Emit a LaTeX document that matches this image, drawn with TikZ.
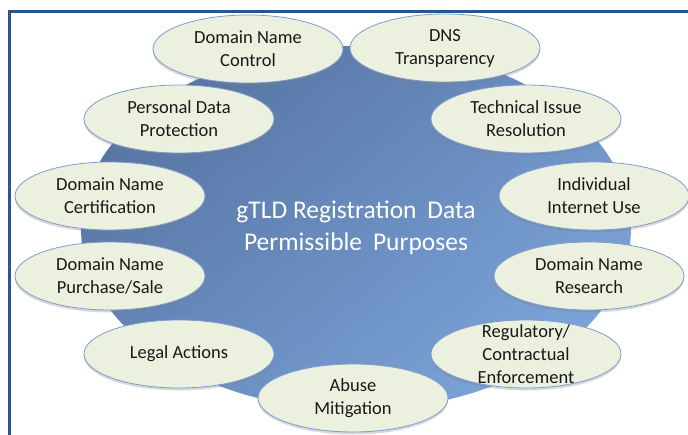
\documentclass[tikz,border=0pt]{standalone}
\usepackage{fontspec}
\setmainfont{Carlito}
\usetikzlibrary{shapes.geometric,shadows}

\definecolor{frameblue}{RGB}{43,85,145}
\definecolor{hubdark}{RGB}{86,117,164}
\definecolor{hublight}{RGB}{124,163,216}
\definecolor{purposefill}{RGB}{235,241,222}
\definecolor{purposeedge}{RGB}{125,157,204}

\begin{document}
\begin{tikzpicture}[x=1pt, y=-1pt,
		borderline/.style={draw=frameblue, line width=2.6pt},
		hub/.style={ellipse, minimum width=550pt, minimum height=364pt, inner sep=0pt, left color=hubdark, right color=hublight, shading angle=40, text=white, align=center, font=\fontsize{25.5}{32}\selectfont},
		purpose/.style={ellipse, draw=purposeedge, line width=0.8pt, fill=purposefill, minimum width=190pt, minimum height=68pt, inner sep=0pt, align=center, text=black!90, font=\fontsize{18.5}{23}\selectfont, drop shadow={shadow xshift=0pt, shadow yshift=-2.5pt, opacity=0.3}},
		purposelabel/.style={align=center, text=black!90, font=\fontsize{18.5}{23}\selectfont},
	]
		\useasboundingbox (0,0) rectangle (688,434);
		\clip (0,0) rectangle (688,434);

		\draw[borderline] (9.5,440) -- (9.5,11.3) -- (700,11.3);

		\node[hub] (hub) at (356,228) {gTLD Registration\hspace{0.2em} Data\\Permissible\hspace{0.2em} Purposes};

		\node[purpose] (control) at (248,49) {Domain Name\\Control};
		\node[purpose] (dns) at (445,48) {DNS\\Transparency};
		\node[purpose] (privacy) at (179,119) {Personal Data\\Protection};
		\node[purpose] (technical) at (526,119) {Technical Issue\\Resolution};
		\node[purpose] (certification) at (110,196) {Domain Name\\Certification};
		\node[purpose] (individual) at (594,196) {Individual\\Internet Use};
		\node[purpose] (trade) at (110,276) {Domain Name\\Purchase/Sale};
		\node[purpose] (research) at (589,276) {Domain Name\\Research};
		\node[purpose] (legal) at (179,354) {Legal Actions};
		\node[purpose, label={[purposelabel]center:Regulatory/\\Contractual\\Enforcement}] (enforcement) at (526,354) {};
		\node[purpose] (abuse) at (353,398) {Abuse\\Mitigation};
	\end{tikzpicture}
\end{document}
